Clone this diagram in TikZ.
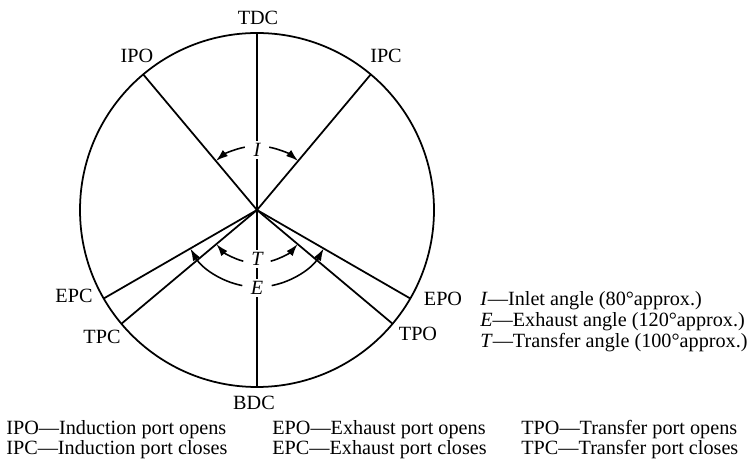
\documentclass[tikz,border=0pt]{standalone}
\usepackage{fontspec}
\setmainfont{Liberation Serif}
\usetikzlibrary{arrows.meta, calc}

\begin{document}
\begin{tikzpicture}[x=0.02cm, y=0.02cm, font=\fontsize{11.5}{13}\selectfont,
		spoke/.style={line width=1pt},
		sweep/.style={line width=0.9pt, -{Latex[length=7pt, width=4.5pt]}},
		port/.style={anchor=base, inner sep=0pt},
		gap/.style={fill=white, inner sep=1.5pt, font=\fontsize{11.5}{13}\selectfont\itshape},
		key/.style={anchor=base west, inner sep=0pt}]
	\useasboundingbox (0,0) rectangle (751,-462);

	\coordinate (o) at (257,-210);
	\path (o) ++(90:177)  coordinate (tdc)
	      (o) ++(270:177) coordinate (bdc)
	      (o) ++(130:177) coordinate (ipo)
	      (o) ++(50:177)  coordinate (ipc)
	      (o) ++(330:177) coordinate (epo)
	      (o) ++(210:177) coordinate (epc)
	      (o) ++(320:177) coordinate (tpo)
	      (o) ++(220:177) coordinate (tpc);

	\draw[spoke] (o) circle[radius=177];
	\draw[spoke] (tdc) -- (bdc);
	\draw[spoke] (o) -- (ipo);
	\draw[spoke] (o) -- (ipc);
	\draw[spoke] (o) -- (epo);
	\draw[spoke] (o) -- (epc);
	\draw[spoke] (o) -- (tpo);
	\draw[spoke] (o) -- (tpc);

	\node[port] (tdcl) at (258,-25)  {TDC};
	\node[port] (bdcl) at (254,-410) {BDC};
	\node[port] (ipol) at (137,-63)  {IPO};
	\node[port] (ipcl) at (386,-63)  {IPC};
	\node[port] (epcl) at (74,-303)  {EPC};
	\node[port] (tpcl) at (102,-344) {TPC};
	\node[port] (epol) at (443,-306) {EPO};
	\node[port] (tpol) at (418,-341) {TPO};

	\node[gap] (inlet)    at ($(o)+(90:60)$)  {I};
	\node[gap] (transfer) at ($(o)+(270:49)$) {T};
	\node[gap] (exhaust)  at ($(o)+(270:78)$) {E};

	\draw[sweep] (o) ++(101:64) arc[start angle=101, end angle=130, radius=64];
	\draw[sweep] (o) ++(79:64)  arc[start angle=79,  end angle=50,  radius=64];
	\draw[sweep] (o) ++(255:53) arc[start angle=255, end angle=220, radius=53];
	\draw[sweep] (o) ++(285:53) arc[start angle=285, end angle=320, radius=53];
	\draw[sweep] (o) ++(259:77) arc[start angle=259, end angle=210, radius=77];
	\draw[sweep] (o) ++(281:77) arc[start angle=281, end angle=330, radius=77];

	\node[key] (kinlet)    at (480,-306) {\textit{I}---Inlet angle (80°approx.)};
	\node[key] (kexhaust)  at (480,-327) {\textit{E}---Exhaust angle (120°approx.)};
	\node[key] (ktransfer) at (480,-348) {\textit{T}---Transfer angle (100°approx.)};

	\node[key] (kipo) at (6,-435)   {IPO---Induction port opens};
	\node[key] (kipc) at (6,-455)   {IPC---Induction port closes};
	\node[key] (kepo) at (272,-435) {EPO---Exhaust port opens};
	\node[key] (kepc) at (272,-455) {EPC---Exhaust port closes};
	\node[key] (ktpo) at (521,-435) {TPO---Transfer port opens};
	\node[key] (ktpc) at (521,-455) {TPC---Transfer port closes};
\end{tikzpicture}
\end{document}
